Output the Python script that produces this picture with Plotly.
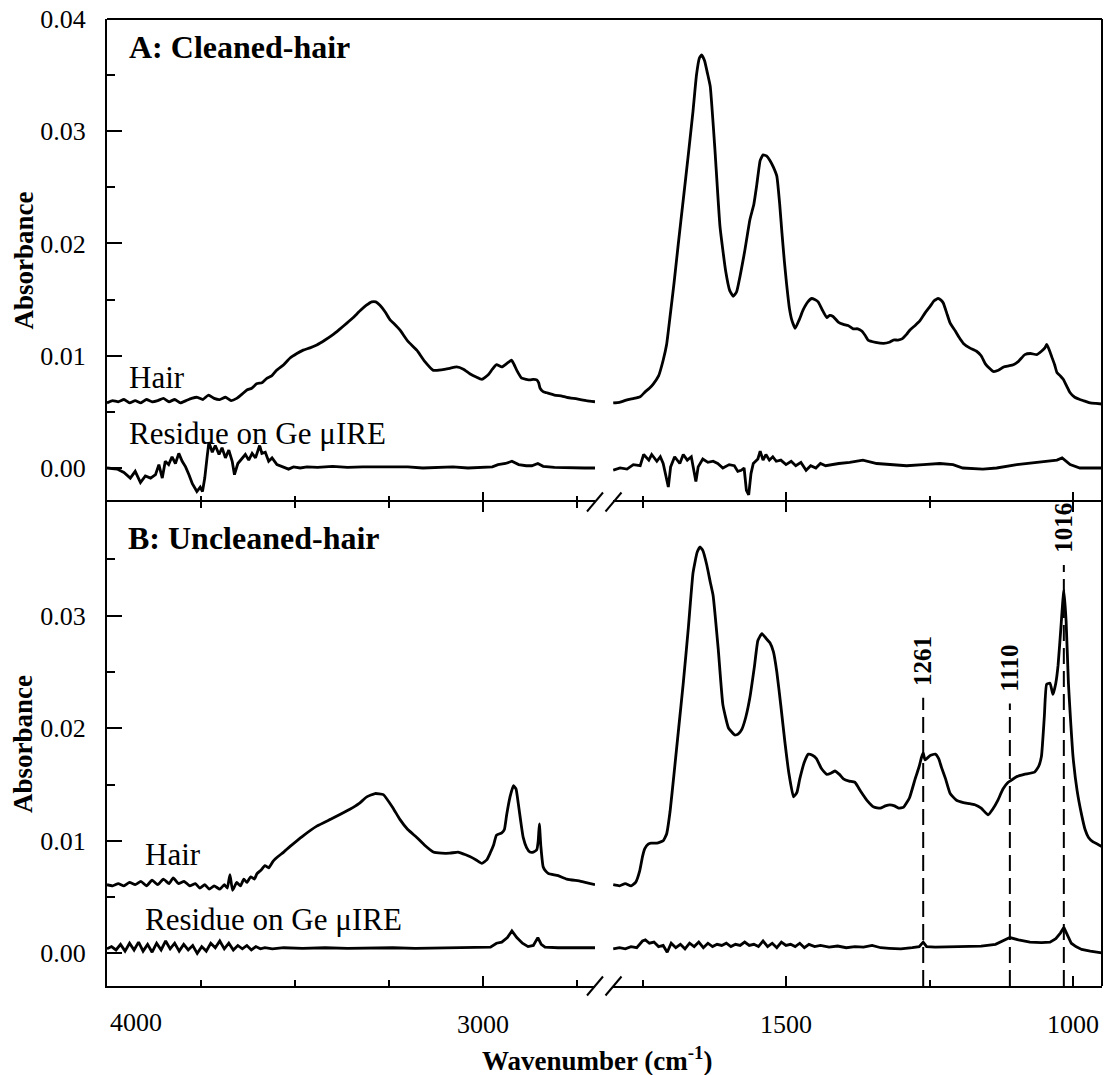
import plotly.graph_objects as go

# ---------------------------------------------------------------------------
# FTIR spectra (absorbance x 1e-3) of hair and of the residue left on the Ge
# micro-IRE, for cleaned (A) and uncleaned (B) hair.  The wavenumber axis is
# broken between ~2700 and ~1800 cm-1, so every spectrum is kept as a
# high-wavenumber part (HI) and a fingerprint part (LO).
# ---------------------------------------------------------------------------

# --- Panel A: cleaned hair -------------------------------------------------
A_HAIR_HI_WN = [4000, 3985, 3970, 3955, 3940, 3925, 3910, 3895, 3880, 3865,
                3850, 3835, 3820, 3805, 3790, 3775, 3760, 3745, 3730, 3715,
                3700, 3685, 3670, 3655, 3640, 3628, 3615, 3602, 3588, 3575,
                3562, 3549, 3530, 3513, 3495, 3478, 3460, 3442, 3420, 3398,
                3380, 3362, 3345, 3327, 3310, 3296, 3285, 3274, 3260, 3247,
                3235, 3221, 3200, 3176, 3155, 3132, 3110, 3088, 3070, 3052,
                3035, 3018, 3003, 2986, 2975, 2964, 2950, 2937, 2924, 2917,
                2910, 2897, 2885, 2875, 2866, 2857, 2852, 2848, 2840, 2830,
                2810, 2790, 2777, 2750, 2725, 2702]
A_HAIR_HI_ABS = [5.8, 6.0, 5.9, 6.1, 5.8, 6.0, 5.8, 6.1, 5.9, 6.0,
                 6.2, 5.9, 6.1, 5.8, 6.0, 6.2, 6.3, 6.1, 6.5, 6.2,
                 6.1, 6.3, 6.0, 6.2, 6.6, 6.95, 7.1, 7.5, 7.6, 7.99,
                 8.2, 8.7, 9.2, 9.8, 10.2, 10.5, 10.7, 10.96, 11.4, 11.9,
                 12.4, 12.9, 13.4, 14.0, 14.5, 14.8, 14.8, 14.5, 13.9, 13.2,
                 12.8, 12.3, 11.3, 10.5, 9.5, 8.7, 8.75, 8.88, 9.0, 8.8,
                 8.4, 8.1, 7.9, 8.3, 8.8, 9.2, 9.0, 9.3, 9.6, 9.2,
                 8.7, 8.0, 7.9, 7.85, 7.9, 7.85, 7.6, 7.1, 6.8, 6.7,
                 6.5, 6.4, 6.3, 6.15, 6.0, 5.9]

A_HAIR_LO_WN = [1801, 1790, 1775, 1765, 1754, 1745, 1738, 1731, 1722, 1714,
                1708, 1702, 1695, 1688, 1679, 1670, 1662, 1656, 1651, 1647,
                1642, 1637, 1632, 1624, 1615, 1605, 1598, 1592, 1586, 1580,
                1572, 1563, 1556, 1551, 1545, 1540, 1534, 1528, 1522, 1516,
                1511, 1507, 1503, 1499, 1494, 1490, 1484, 1477, 1470, 1462,
                1455, 1450, 1444, 1437, 1429, 1424, 1418, 1409, 1400, 1392,
                1383, 1375, 1368, 1362, 1357, 1344, 1330, 1320, 1313, 1305,
                1298, 1290, 1284, 1275, 1267, 1258, 1249, 1242, 1235, 1230,
                1226, 1220, 1214, 1205, 1198, 1191, 1180, 1168, 1160, 1153,
                1146, 1139, 1130, 1121, 1112, 1104, 1095, 1084, 1074, 1063,
                1055, 1049, 1046, 1042, 1037, 1032, 1028, 1022, 1017, 1011,
                1005, 997, 988, 979, 970, 960, 950]
A_HAIR_LO_ABS = [5.8, 5.85, 6.1, 6.2, 6.35, 6.8, 7.1, 7.5, 8.2, 9.6,
                 11.0, 13.5, 16.5, 19.8, 23.9, 28.0, 31.8, 35.0, 36.5, 36.8,
                 36.3, 35.2, 34.0, 28.5, 21.5, 17.5, 15.8, 15.3, 15.7, 17.1,
                 19.3, 22.1, 23.5, 25.2, 27.4, 27.9, 27.8, 27.4, 26.8, 26.0,
                 23.5, 20.9, 18.5, 16.4, 14.2, 13.2, 12.44, 13.2, 14.1, 14.8,
                 15.1, 15.0, 14.8, 14.1, 13.4, 13.6, 13.5, 13.0, 12.8, 12.7,
                 12.4, 12.4, 12.2, 11.8, 11.4, 11.2, 11.1, 11.2, 11.4, 11.4,
                 11.5, 11.9, 12.3, 12.7, 13.1, 13.8, 14.4, 14.9, 15.1, 14.95,
                 14.7, 13.8, 12.9, 12.2, 11.6, 11.1, 10.7, 10.4, 10.0, 9.3,
                 8.9, 8.6, 8.7, 9.0, 9.1, 9.2, 9.5, 10.1, 10.2, 10.1,
                 10.4, 10.7, 11.0, 10.6, 9.9, 9.2, 8.5, 8.2, 7.9, 7.3,
                 6.7, 6.3, 6.1, 5.95, 5.8, 5.75, 5.7]

A_RES_HI_WN = [4000, 3973, 3955, 3938, 3925, 3911, 3898, 3884, 3871, 3862,
               3853, 3845, 3836, 3827, 3818, 3809, 3800, 3791, 3782, 3773,
               3761, 3752, 3746, 3740, 3734, 3729, 3720, 3712, 3702, 3694,
               3685, 3676, 3667, 3661, 3652, 3641, 3632, 3623, 3614, 3605,
               3594, 3588, 3579, 3570, 3561, 3548, 3530, 3517, 3504, 3486,
               3468, 3440, 3400, 3360, 3320, 3280, 3240, 3200, 3160, 3120,
               3080, 3040, 3000, 2975, 2960, 2940, 2923, 2905, 2885, 2870,
               2854, 2840, 2810, 2770, 2730, 2702]
A_RES_HI_ABS = [0.0, -0.1, -0.4, -0.9, -0.3, -1.3, -0.7, -0.9, -0.6, 0.3,
                -0.9, 0.6, 0.3, 1.0, 0.4, 1.3, 0.6, 0.1, -0.6, -1.4,
                -2.1, -1.7, -2.1, -0.9, 0.9, 2.3, 1.4, 2.0, 1.2, 1.8,
                0.9, 1.6, 0.6, -0.6, 0.4, 0.9, 1.2, 0.7, 1.3, 0.9,
                2.0, 1.3, 1.4, 0.6, 0.9, 0.3, 0.1, -0.1, 0.1, 0.0,
                0.1, 0.05, 0.15, 0.05, 0.1, 0.1, 0.05, 0.1, 0.0, 0.05,
                0.1, 0.0, 0.05, 0.1, 0.3, 0.4, 0.6, 0.3, 0.2, 0.2,
                0.4, 0.15, 0.05, 0.0, 0.0, 0.0]

A_RES_LO_WN = [1801, 1789, 1777, 1766, 1754, 1748, 1739, 1734, 1725, 1719,
               1714, 1709, 1705, 1701, 1694, 1685, 1679, 1672, 1665, 1657,
               1653, 1645, 1636, 1627, 1619, 1610, 1599, 1590, 1584, 1578,
               1573, 1569, 1565, 1561, 1557, 1549, 1545, 1540, 1535, 1529,
               1523, 1517, 1509, 1500, 1491, 1483, 1474, 1465, 1457, 1448,
               1440, 1431, 1422, 1408, 1389, 1366, 1342, 1319, 1290, 1261,
               1232, 1209, 1192, 1157, 1133, 1098, 1063, 1040, 1028, 1019,
               1005, 988, 970, 950]
A_RES_LO_ABS = [-0.2, 0.0, -0.1, 0.3, 0.2, 1.2, 0.7, 1.2, 0.6, 1.0,
                0.4, -0.8, -1.7, 0.1, 1.0, 0.4, 1.2, 0.7, 1.0, -1.2,
                0.1, 0.8, 0.5, 0.6, 0.4, 0.0, 0.3, 0.2, -0.3, -0.2,
                0.0, -2.0, -2.4, -0.5, 0.4, 0.8, 1.5, 0.7, 1.2, 0.7,
                1.0, 0.6, 0.7, 0.3, 0.6, 0.2, 0.5, -0.2, 0.2, 0.0,
                0.4, 0.2, 0.3, 0.4, 0.5, 0.7, 0.4, 0.3, 0.2, 0.3,
                0.4, 0.3, 0.0, -0.1, 0.0, 0.3, 0.5, 0.6, 0.7, 0.9,
                0.3, 0.0, 0.0, 0.0]

# --- Panel B: uncleaned hair -----------------------------------------------
B_HAIR_HI_WN = [4000, 3985, 3970, 3955, 3940, 3925, 3910, 3895, 3880, 3865,
                3850, 3835, 3824, 3810, 3795, 3780, 3765, 3753, 3740, 3728,
                3715, 3700, 3688, 3680, 3673, 3666, 3655, 3645, 3636, 3628,
                3618, 3608, 3601, 3590, 3580, 3570, 3558, 3545, 3530, 3513,
                3480, 3442, 3400, 3354, 3330, 3309, 3287, 3265, 3239, 3221,
                3200, 3176, 3155, 3132, 3110, 3088, 3066, 3050, 3035, 3018,
                3003, 2990, 2981, 2972, 2964, 2950, 2943, 2937, 2928, 2919,
                2912, 2906, 2899, 2893, 2884, 2875, 2866, 2857, 2853, 2850,
                2846, 2840, 2833, 2826, 2800, 2777, 2740, 2702]
B_HAIR_HI_ABS = [6.1, 6.0, 6.2, 6.0, 6.3, 6.1, 6.4, 6.0, 6.5, 6.1,
                 6.6, 6.2, 6.7, 6.2, 6.4, 6.0, 6.2, 5.8, 6.1, 5.7,
                 6.0, 5.7, 6.1, 5.8, 7.0, 5.6, 6.3, 6.0, 6.6, 6.3,
                 6.8, 6.6, 7.08, 7.4, 7.8, 7.6, 8.2, 8.6, 9.0, 9.5,
                 10.4, 11.3, 12.0, 12.8, 13.3, 13.9, 14.2, 14.1, 12.9, 11.9,
                 11.0, 10.3, 9.6, 9.0, 8.9, 8.9, 9.0, 8.8, 8.6, 8.3,
                 8.0, 8.3, 8.9, 9.6, 10.5, 10.7, 11.0, 12.3, 13.9, 14.9,
                 14.6, 13.3, 11.6, 10.3, 9.4, 9.0, 9.0, 9.2, 10.0, 11.5,
                 9.5, 7.7, 7.3, 7.1, 6.9, 6.6, 6.4, 6.1]

B_HAIR_LO_WN = [1801, 1790, 1780, 1770, 1762, 1755, 1750, 1746, 1740, 1735,
                1725, 1714, 1708, 1702, 1695, 1687, 1679, 1670, 1662, 1655,
                1650, 1645, 1638, 1632, 1627, 1618, 1610, 1600, 1589, 1583,
                1577, 1570, 1563, 1555, 1549, 1542, 1535, 1528, 1522, 1516,
                1509, 1502, 1495, 1487, 1481, 1476, 1468, 1461, 1454, 1447,
                1438, 1429, 1422, 1415, 1407, 1400, 1390, 1380, 1370, 1359,
                1347, 1336, 1327, 1319, 1311, 1304, 1295, 1285, 1275, 1268,
                1264, 1261, 1258, 1255, 1248, 1240, 1234, 1229, 1222, 1214,
                1203, 1191, 1180, 1171, 1160, 1148, 1140, 1131, 1122, 1113,
                1110, 1098, 1085, 1067, 1060, 1055, 1050, 1046, 1040, 1035,
                1030, 1026, 1021, 1016, 1012, 1008, 1004, 1000, 993, 985,
                979, 973, 965, 957, 950]
B_HAIR_LO_ABS = [6.1, 6.0, 6.2, 6.0, 6.3, 7.3, 8.6, 9.3, 9.7, 9.8,
                 9.8, 10.0, 10.6, 12.6, 16.0, 20.0, 24.0, 29.0, 33.8, 35.6,
                 36.1, 35.8, 34.5, 33.0, 31.8, 27.0, 22.1, 20.0, 19.4, 19.5,
                 19.9, 21.0, 22.7, 25.5, 27.8, 28.4, 28.0, 27.6, 26.8, 25.0,
                 22.0, 18.8, 16.0, 13.9, 14.3, 15.5, 17.0, 17.7, 17.6, 17.3,
                 16.4, 15.9, 16.0, 16.2, 15.9, 15.5, 15.3, 15.2, 14.4, 13.6,
                 13.0, 12.9, 13.1, 13.2, 13.1, 12.9, 13.0, 13.8, 15.5, 16.6,
                 17.4, 17.8, 17.2, 17.3, 17.6, 17.7, 17.3, 16.5, 15.5, 14.2,
                 13.6, 13.4, 13.3, 13.2, 12.9, 12.3, 12.8, 13.6, 14.6, 15.2,
                 15.3, 15.7, 15.9, 16.1, 16.6, 17.5, 21.0, 23.9, 24.0, 23.0,
                 24.0, 25.6, 29.0, 32.3, 29.5, 24.0, 20.5, 17.5, 14.5, 12.3,
                 11.0, 10.3, 9.9, 9.7, 9.5]

B_RES_HI_WN = [4000, 3988, 3976, 3964, 3952, 3940, 3928, 3916, 3904, 3892,
               3880, 3868, 3856, 3844, 3832, 3820, 3808, 3796, 3784, 3772,
               3760, 3748, 3736, 3724, 3712, 3700, 3688, 3676, 3664, 3652,
               3640, 3628, 3616, 3604, 3592, 3580, 3560, 3530, 3480, 3420,
               3360, 3300, 3240, 3180, 3120, 3060, 3000, 2980, 2964, 2950,
               2935, 2923, 2910, 2895, 2880, 2866, 2854, 2845, 2835, 2800,
               2750, 2702]
B_RES_HI_ABS = [0.4, 0.6, 0.3, 0.8, 0.2, 0.9, 0.3, 1.0, 0.2, 0.8,
                0.1, 0.9, 0.3, 1.1, 0.4, 0.9, 0.2, 0.8, 0.3, 0.7,
                0.0, 0.6, 0.2, 0.9, 0.5, 1.1, 0.4, 0.9, 0.3, 0.7,
                0.4, 0.7, 0.3, 0.6, 0.4, 0.5, 0.4, 0.5, 0.45, 0.5,
                0.45, 0.5, 0.5, 0.45, 0.5, 0.5, 0.55, 0.55, 0.9, 1.0,
                1.4, 2.0, 1.4, 0.9, 0.6, 0.7, 1.4, 0.8, 0.55, 0.5,
                0.5, 0.5]

B_RES_LO_WN = [1801, 1790, 1780, 1770, 1760, 1750, 1745, 1738, 1730, 1722,
               1714, 1707, 1700, 1692, 1684, 1676, 1668, 1660, 1652, 1644,
               1636, 1628, 1620, 1612, 1604, 1596, 1588, 1580, 1572, 1564,
               1556, 1548, 1540, 1532, 1524, 1516, 1508, 1500, 1492, 1484,
               1476, 1468, 1460, 1450, 1440, 1425, 1410, 1395, 1380, 1365,
               1350, 1335, 1320, 1300, 1280, 1268, 1261, 1255, 1240, 1200,
               1160, 1135, 1120, 1110, 1095, 1075, 1055, 1040, 1030, 1022,
               1016, 1010, 1003, 995, 985, 970, 950]
B_RES_LO_ABS = [0.4, 0.5, 0.4, 0.6, 0.5, 1.1, 1.2, 0.9, 1.0, 0.6,
                0.7, 0.1, 0.9, 0.5, 0.8, 0.4, 0.9, 0.6, 1.0, 0.5,
                0.9, 0.6, 0.8, 0.7, 0.9, 0.6, 0.8, 0.7, 1.0, 0.7,
                0.8, 0.6, 1.1, 0.6, 0.9, 0.5, 1.0, 0.7, 0.8, 0.6,
                0.9, 0.5, 0.8, 0.6, 0.7, 0.55, 0.65, 0.5, 0.6, 0.55,
                0.7, 0.5, 0.45, 0.4, 0.5, 0.6, 1.0, 0.6, 0.55, 0.6,
                0.65, 0.8, 1.2, 1.4, 1.2, 1.0, 0.95, 1.0, 1.3, 1.8,
                2.3, 1.6, 0.9, 0.6, 0.35, 0.2, 0.05]

# Marked bands in the uncleaned-hair spectrum (cm-1) and how high their
# guide lines reach (absorbance)
MARKED_BANDS = [1261, 1110, 1016]
MARKED_TOPS = [0.0227, 0.0222, 0.0345]

Y_TICKS_A = [0.00, 0.01, 0.02, 0.03, 0.04]
Y_TICKS_B = [0.00, 0.01, 0.02, 0.03]
Y_MINOR = [0.005, 0.015, 0.025, 0.035]
HI_MAJOR, HI_MINOR = [3000], [3750, 3500, 3250, 2750]
LO_MAJOR, LO_MINOR = [1500, 1000], [1750, 1250]

# ---------------------------------------------------------------------------
FONT = "Liberation Serif, Times New Roman, serif"
W, H = 1104, 1075
ML, MR, MT, MB = 107, 2, 19, 89
PW, PH = W - ML - MR, H - MT - MB


def px_x(px):
    return (px - ML) / PW


def px_y(py):
    return (H - MB - py) / PH


X_HI_DOM = [0, px_x(595)]
X_LO_DOM = [px_x(613), 1]
Y_A_DOM = [px_y(502), 1]
Y_B_DOM = [0, px_y(502)]
X_HI_RANGE = [4000, 2702]
X_LO_RANGE = [1801.4, 949.5]


def milli(vals):
    return [v * 1e-3 for v in vals]


fig = go.Figure()


def spectrum(wn, ab, xa, ya, smooth):
    line = dict(color="black", width=2.8)
    if smooth:
        line.update(shape="spline", smoothing=0.4)
    fig.add_trace(go.Scatter(x=wn, y=milli(ab), xaxis=xa, yaxis=ya,
                             mode="lines", line=line, showlegend=False,
                             hoverinfo="skip"))


spectrum(A_HAIR_HI_WN, A_HAIR_HI_ABS, "x", "y", True)
spectrum(A_HAIR_LO_WN, A_HAIR_LO_ABS, "x2", "y", True)
spectrum(A_RES_HI_WN, A_RES_HI_ABS, "x", "y", False)
spectrum(A_RES_LO_WN, A_RES_LO_ABS, "x2", "y", False)
spectrum(B_HAIR_HI_WN, B_HAIR_HI_ABS, "x3", "y2", True)
spectrum(B_HAIR_LO_WN, B_HAIR_LO_ABS, "x4", "y2", True)
spectrum(B_RES_HI_WN, B_RES_HI_ABS, "x3", "y2", False)
spectrum(B_RES_LO_WN, B_RES_LO_ABS, "x4", "y2", False)

tickfont = dict(family=FONT, size=26, color="black")


def xaxis(dom, rng, anchor, major, minor, labelled, mirror, line):
    ax = dict(domain=dom, range=rng, anchor=anchor, showline=line,
              linecolor="black", linewidth=2, ticks="inside", ticklen=10,
              tickwidth=2, tickcolor="black", tickvals=major,
              showgrid=False, zeroline=False, tickfont=tickfont,
              showticklabels=labelled, ticklabelstandoff=14,
              minor=dict(tickvals=minor, ticks="inside", ticklen=6,
                         tickwidth=2, tickcolor="black", showgrid=False))
    if mirror:
        ax["mirror"] = "ticks"
    return ax


def yaxis(dom, rng, anchor, major):
    return dict(domain=dom, range=rng, anchor=anchor, showline=True,
                linecolor="black", linewidth=2, ticks="inside", ticklen=15,
                tickwidth=2, tickcolor="black", tickvals=major,
                tickformat=".2f", showgrid=False, zeroline=False,
                tickfont=tickfont, ticklabelstandoff=14,
                minor=dict(tickvals=Y_MINOR, ticks="inside", ticklen=8,
                           tickwidth=2, tickcolor="black", showgrid=False))


fig.update_layout(
    # panel A bottom: only ticks, the shared line comes from panel B's mirror
    xaxis=xaxis(X_HI_DOM, X_HI_RANGE, "y", HI_MAJOR, HI_MINOR,
                False, False, False),
    xaxis2=xaxis(X_LO_DOM, X_LO_RANGE, "y", LO_MAJOR, LO_MINOR,
                 False, False, False),
    xaxis3=xaxis(X_HI_DOM, X_HI_RANGE, "y2", HI_MAJOR, HI_MINOR,
                 True, True, True),
    xaxis4=xaxis(X_LO_DOM, X_LO_RANGE, "y2", LO_MAJOR, LO_MINOR,
                 True, True, True),
    yaxis=yaxis(Y_A_DOM, [-0.00303, 0.040], "x", Y_TICKS_A),
    yaxis2=yaxis(Y_B_DOM, [-0.0029, 0.0401], "x3", Y_TICKS_B),
)

shapes = []
frame = dict(color="black", width=2)
# top and right border of the stacked frame
shapes.append(dict(type="line", xref="paper", yref="paper", x0=0, x1=1,
                   y0=1, y1=1, line=frame))
shapes.append(dict(type="line", xref="paper", yref="paper", x0=1, x1=1,
                   y0=0, y1=1, line=frame))
# axis-break marks "//" on the shared middle axis and the bottom axis
for yc in (502, 986):
    for xc in (595, 613.5):
        shapes.append(dict(type="line", xref="paper", yref="paper",
                           x0=px_x(xc - 8), y0=px_y(yc + 9.5),
                           x1=px_x(xc + 8), y1=px_y(yc - 9.5),
                           line=frame))
# dashed guides for the marked bands
for wn, top in zip(MARKED_BANDS, MARKED_TOPS):
    shapes.append(dict(type="line", xref="x4", yref="y2", x0=wn, x1=wn,
                       y0=-0.0029, y1=top,
                       line=dict(color="black", width=2, dash="16px,7px")))
fig.update_layout(shapes=shapes)

ann = []


def text(s, px, py, size, bold=False, xanchor="left", angle=0):
    ann.append(dict(text=f"<b>{s}</b>" if bold else s, xref="paper",
                    yref="paper", x=px_x(px), y=px_y(py), xanchor=xanchor,
                    yanchor="middle", showarrow=False, textangle=angle,
                    font=dict(family=FONT, size=size, color="black")))


text("A: Cleaned-hair", 127, 47, 32, bold=True)
text("Hair", 127, 377, 31)
text("Residue on Ge \u03bcIRE", 127, 433, 31)
text("B: Uncleaned-hair", 126, 538, 32, bold=True)
text("Hair", 143, 854, 31)
text("Residue on Ge \u03bcIRE", 143, 919, 31)
text("Absorbance", 23, 260.5, 27, bold=True, xanchor="center", angle=-90)
text("Absorbance", 23, 744, 27, bold=True, xanchor="center", angle=-90)
text("Wavenumber (cm<sup>-1</sup>)", 597, 1059, 27, bold=True,
     xanchor="center")
text("4000", 136, 1022, 26, xanchor="center")

# rotated band labels above their guide lines
for wn, top in zip(MARKED_BANDS, MARKED_TOPS):
    ann.append(dict(text=f"<b>{wn}</b>", xref="x4", yref="y2", x=wn,
                    y=top + 0.0009, xanchor="center", yanchor="bottom",
                    textangle=-90, showarrow=False,
                    font=dict(family=FONT, size=25, color="black")))

fig.update_layout(annotations=ann)

fig.update_layout(
    width=W, height=H, autosize=False,
    margin=dict(l=ML, r=MR, t=MT, b=MB, pad=0),
    paper_bgcolor="white", plot_bgcolor="white",
    font=dict(family=FONT, color="black"),
    showlegend=False,
)

fig.write_html("out.html")
